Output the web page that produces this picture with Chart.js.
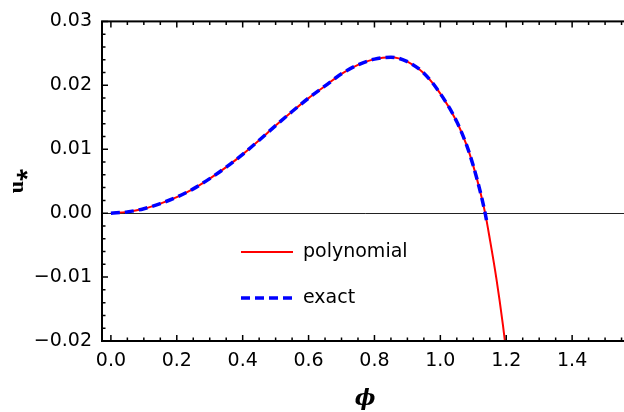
<!DOCTYPE html>
<html lang="en">
<head>
<meta charset="UTF-8">
<title>u* versus phi</title>
<script src="https://cdn.jsdelivr.net/npm/chart.js"></script>
<style>
    html, body { margin: 0; padding: 0; background: #fff; width: 624px; height: 412px; overflow: hidden; }
    #wrap { width: 640px; height: 412px; }
</style>
</head>
<body>
<div id="wrap"><canvas id="uChart" width="640" height="412"></canvas></div>
<script>
    // values
    const phiPoly = [0, 0.05, 0.1, 0.15, 0.2, 0.25, 0.3, 0.35, 0.4, 0.45, 0.5, 0.55, 0.6, 0.65, 0.7, 0.75,
                     0.8, 0.85, 0.9, 0.95, 1.0, 1.05, 1.08, 1.1, 1.12, 1.136, 1.15, 1.17, 1.19, 1.21];
    const uPoly = [0, 0.0002, 0.0007, 0.0015, 0.0025, 0.0038, 0.0054, 0.0072, 0.0092, 0.0114, 0.0137, 0.0159,
                   0.0180, 0.0199, 0.0218, 0.0232, 0.0241, 0.0244, 0.0237, 0.0219, 0.0187, 0.0143, 0.0106,
                   0.0074, 0.0036, 0, -0.0040, -0.0102, -0.0175, -0.0260];
    const phiExact = [0, 0.05, 0.1, 0.15, 0.2, 0.25, 0.3, 0.35, 0.4, 0.45, 0.5, 0.55, 0.6, 0.65, 0.7, 0.75,
                      0.8, 0.85, 0.9, 0.95, 1.0, 1.05, 1.08, 1.1, 1.12, 1.136, 1.14];
    const uExact = [0, 0.0002, 0.0007, 0.0015, 0.0025, 0.0038, 0.0054, 0.0072, 0.0092, 0.0114, 0.0137, 0.0159,
                    0.0180, 0.0199, 0.0218, 0.0232, 0.0241, 0.0244, 0.0237, 0.0219, 0.0187, 0.0143, 0.0106,
                    0.0074, 0.0036, 0, -0.0011];
    const seriesNames = ["polynomial", "exact"];
    const xTicks = [0, 0.2, 0.4, 0.6, 0.8, 1.0, 1.2, 1.4];
    const yTicks = [-0.02, -0.01, 0, 0.01, 0.02, 0.03];
    const xMinorStep = 0.05;
    const yMinorStep = 0.002;

    const toPoints = (xs, ys) => xs.map((x, i) => ({ x: x, y: ys[i] }));
    const labelFont = { family: "DejaVu Sans", size: 19 };

    // frame with inward ticks (right side is cut off by the window anyway)
    const framePlugin = {
        id: "frame",
        afterDraw(chart) {
            const { ctx, chartArea: a, scales } = chart;
            const sx = scales.x, sy = scales.y;
            ctx.save();
            ctx.strokeStyle = "#000";
            ctx.lineWidth = 1.5;
            ctx.beginPath();
            for (let v = 0; v <= sx.max + 1e-9; v += xMinorStep) {
                const px = sx.getPixelForValue(v);
                const major = xTicks.some(t => Math.abs(t - v) < 1e-6);
                const len = major ? 6 : 3.5;
                ctx.moveTo(px, a.bottom); ctx.lineTo(px, a.bottom - len);
                ctx.moveTo(px, a.top); ctx.lineTo(px, a.top + len);
            }
            for (let v = sy.min; v <= sy.max + 1e-9; v += yMinorStep) {
                const py = sy.getPixelForValue(v);
                const major = yTicks.some(t => Math.abs(t - v) < 1e-6);
                const len = major ? 6 : 3.5;
                ctx.moveTo(a.left, py); ctx.lineTo(a.left + len, py);
            }
            ctx.stroke();
            ctx.lineWidth = 2;
            ctx.strokeRect(a.left, a.top, a.right - a.left, a.bottom - a.top);
            ctx.restore();
        }
    };

    // legend drawn inside the plot area
    const insideLegend = {
        id: "insideLegend",
        afterDraw(chart) {
            const ctx = chart.ctx;
            const rows = [252, 298];
            ctx.save();
            ctx.font = "19px 'DejaVu Sans'";
            ctx.textBaseline = "middle";
            ctx.fillStyle = "#000";
            chart.data.datasets.forEach((ds, i) => {
                const y = rows[i];
                ctx.strokeStyle = ds.borderColor;
                ctx.lineWidth = ds.borderWidth;
                ctx.setLineDash(ds.borderDash || []);
                ctx.beginPath();
                ctx.moveTo(241, y);
                ctx.lineTo(293, y);
                ctx.stroke();
                ctx.setLineDash([]);
                ctx.fillText(ds.label, 303, y);
            });
            ctx.restore();
        }
    };

    new Chart(document.getElementById("uChart"), {
        type: "scatter",
        data: {
            datasets: [
                {
                    label: seriesNames[0],
                    data: toPoints(phiPoly, uPoly),
                    showLine: true,
                    borderColor: "#ff0000",
                    borderWidth: 2,
                    pointRadius: 0,
                    cubicInterpolationMode: "monotone",
                    order: 2
                },
                {
                    label: seriesNames[1],
                    data: toPoints(phiExact, uExact),
                    showLine: true,
                    borderColor: "#0000ff",
                    borderWidth: 3.5,
                    borderDash: [9, 5],
                    pointRadius: 0,
                    cubicInterpolationMode: "monotone",
                    order: 1
                }
            ]
        },
        options: {
            responsive: false,
            animation: false,
            events: [],
            layout: { padding: { left: 0, top: 16, right: 640 - 628.4, bottom: 0 } },
            plugins: { legend: { display: false }, tooltip: { enabled: false } },
            scales: {
                x: {
                    type: "linear",
                    min: -0.027,
                    max: Math.PI / 2,
                    afterBuildTicks: s => { s.ticks = xTicks.map(v => ({ value: v })); },
                    afterFit: s => { s.height = 71; },
                    ticks: {
                        font: labelFont, color: "#000", padding: 9,
                        maxRotation: 0, autoSkip: false,
                        callback: v => v.toFixed(1)
                    },
                    grid: { display: false, drawTicks: false },
                    border: { display: false },
                    title: {
                        display: true, text: "\u03D5", color: "#000",
                        font: { family: "DejaVu Serif", style: "italic", weight: "bold", size: 22 },
                        padding: { top: 0, bottom: 0 }
                    }
                },
                y: {
                    min: -0.02,
                    max: 0.03,
                    afterBuildTicks: s => { s.ticks = yTicks.map(v => ({ value: v })); },
                    afterFit: s => { s.width = 102; },
                    ticks: {
                        font: labelFont, color: "#000", padding: 10,
                        callback: v => v.toFixed(2).replace("-", "\u2212")
                    },
                    grid: {
                        drawTicks: false,
                        lineWidth: 1,
                        color: c => (c.tick && c.tick.value === 0) ? "#222" : "rgba(0,0,0,0)"
                    },
                    border: { display: false },
                    title: {
                        display: true, text: "u\u204E", color: "#000",
                        font: { family: "Liberation Serif", weight: "bold", size: 22 },
                        padding: { top: 4, bottom: 0 }
                    }
                }
            }
        },
        plugins: [framePlugin, insideLegend]
    });
</script>
</body>
</html>
